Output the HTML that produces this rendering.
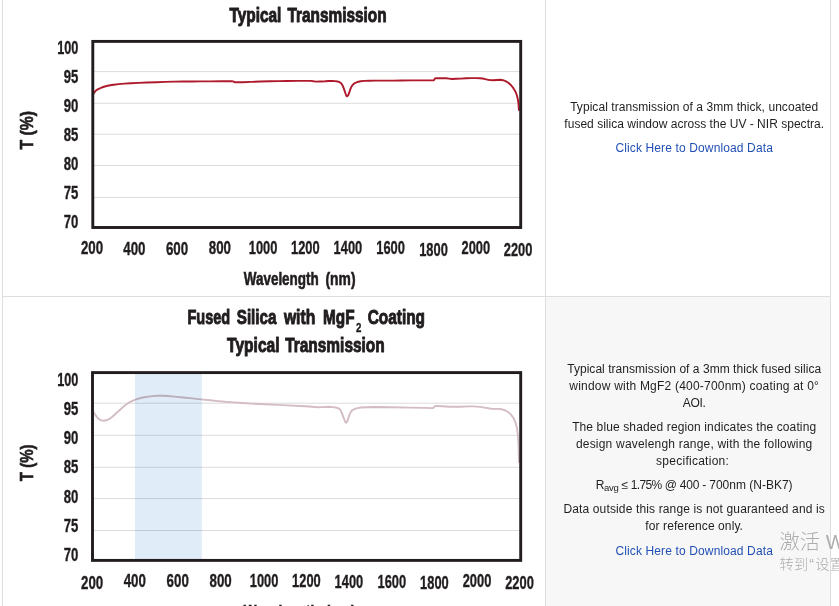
<!DOCTYPE html>
<html lang="en">
<head>
<meta charset="utf-8">
<title>Fused Silica Windows - Typical Transmission</title>
<style>
html,body{margin:0;padding:0;background:#fff;}
body{width:839px;height:606px;overflow:hidden;position:relative;font-family:"Liberation Sans", "DejaVu Sans", sans-serif;}
.tbl{position:absolute;left:2px;top:-40px;width:829px;height:700px;border-left:1px solid #dedede;border-right:1px solid #dedede;box-sizing:border-box;}
.row{position:absolute;left:0;width:827px;box-sizing:border-box;border-bottom:1px solid #dedede;}
.r1{top:0;height:337px;}
.r2{top:337px;height:363px;}
.c1{position:absolute;left:0;top:0;bottom:0;width:542px;border-right:1px solid #dedede;background:#fff;}
.c2{position:absolute;left:543px;top:0;bottom:0;right:0;}
.r2 .c2{background:#f7f7f7;}
svg.chart{position:absolute;left:-3px;display:block;font-family:"Liberation Sans", "DejaVu Sans", sans-serif;font-weight:bold;fill:#211d1f;}
svg.chart text{stroke:#211d1f;stroke-width:0.35px;}
svg.chart text.h{stroke-width:1px;stroke-linejoin:round;}
svg.chart text.m{stroke-width:0.6px;}
.txt{position:absolute;left:0;top:0;width:296.4px;text-align:center;font-size:12px;line-height:17px;color:#1f1f1f;}
.txt p{margin:0;padding:0;position:absolute;left:0;right:0;white-space:nowrap;}
.txt a{color:#2150b4;text-decoration:none;}
.txt sub{font-size:9.5px;line-height:0;vertical-align:-2px;}
.wm{position:absolute;left:779.5px;white-space:nowrap;color:#adadad;font-family:"Liberation Sans","Noto Sans CJK SC",sans-serif;font-weight:300;}
.wm .q{display:inline-block;width:7px;text-align:center;}
</style>
</head>
<body>
<div class="tbl">
  <div class="row r1">
    <div class="c1">
<svg class="chart" width="545" height="296" viewBox="0 0 545 296" style="top:40px">
<rect x="92.8" y="41.4" width="427.9" height="186.1" fill="#fff"/>
<line x1="92.8" x2="520.7" y1="71.6" y2="71.6" stroke="#dcdcdc" stroke-width="1"/>
<line x1="92.8" x2="520.7" y1="103.3" y2="103.3" stroke="#dcdcdc" stroke-width="1"/>
<line x1="92.8" x2="520.7" y1="134.2" y2="134.2" stroke="#dcdcdc" stroke-width="1"/>
<line x1="92.8" x2="520.7" y1="165.5" y2="165.5" stroke="#dcdcdc" stroke-width="1"/>
<line x1="92.8" x2="520.7" y1="197.4" y2="197.4" stroke="#dcdcdc" stroke-width="1"/>
<polyline points="93.0,94.5 94.2,92.6 95.7,90.8 97.3,89.6 99.3,88.6 101.8,87.5 104.7,86.5 108.8,85.5 113.6,84.7 118.6,84.1 124.3,83.6 131,83.2 138.6,82.9 147,82.5 156.5,82.2 165,81.9 174.4,81.6 183,81.5 192.3,81.5 201,81.4 210.2,81.4 221,81.3 231.6,81.3 233.2,81.4 234.6,82.3 238,82.3 242.9,82.2 251,81.9 260.8,81.5 270,81.3 278.6,81.1 287,81.0 296.5,80.9 304,80.9 310.8,80.9 313.5,81.3 316.2,81.6 320,81.5 325.1,81.3 329,81.0 332.3,80.9 335,81.1 337.6,81.5 339.5,82.1 341.2,83.2 342.6,85.4 343.9,88.6 344.8,91.4 345.7,94.0 346.3,95.6 346.9,96.3 347.6,96.0 348.4,94.9 349.3,92.4 350.2,89.5 351.4,86.8 352.8,84.7 354.8,83.1 357.3,82.0 360.5,81.3 364.5,80.9 370,80.7 375,80.6 384,80.6 392.9,80.6 402,80.5 410.8,80.4 422,80.4 433.1,80.4 434.2,80.0 434.8,78.6 435.8,78.2 441,78.2 446.5,78.2 449,78.6 451.9,79.0 456,78.8 460.8,78.6 466,78.3 471.5,78.1 476,78.1 480.5,78.2 484,78.8 487.6,79.7 490.5,80.1 493,80.2 497,80.0 500.2,79.8 503,80.2 505.5,81.1 508.3,82.7 510.9,85.0 513.2,87.9 515.3,91.3 516.6,94.5 517.7,98.4 518.4,103 518.9,110" fill="none" stroke="#ae1a2b" stroke-width="1.9" stroke-linejoin="round" stroke-linecap="round"/>
<rect x="92.8" y="41.4" width="427.9" height="186.1" fill="none" stroke="#211d1f" stroke-width="2.9"/>
<text x="229.5" y="21.7" font-size="21" text-anchor="start" textLength="51.9" lengthAdjust="spacingAndGlyphs" class="h">Typical</text>
<text x="287.4" y="21.7" font-size="21" text-anchor="start" textLength="99.2" lengthAdjust="spacingAndGlyphs" class="h">Transmission</text>
<text x="78.4" y="53.6" font-size="17.5" text-anchor="end" textLength="21.2" lengthAdjust="spacingAndGlyphs">100</text>
<text x="78.4" y="83.3" font-size="17.5" text-anchor="end" textLength="14.6" lengthAdjust="spacingAndGlyphs">95</text>
<text x="78.4" y="111.9" font-size="17.5" text-anchor="end" textLength="14.6" lengthAdjust="spacingAndGlyphs">90</text>
<text x="78.4" y="140.5" font-size="17.5" text-anchor="end" textLength="14.6" lengthAdjust="spacingAndGlyphs">85</text>
<text x="78.4" y="170.3" font-size="17.5" text-anchor="end" textLength="14.6" lengthAdjust="spacingAndGlyphs">80</text>
<text x="78.4" y="198.7" font-size="17.5" text-anchor="end" textLength="14.6" lengthAdjust="spacingAndGlyphs">75</text>
<text x="78.4" y="227.8" font-size="17.5" text-anchor="end" textLength="14.6" lengthAdjust="spacingAndGlyphs">70</text>
<text x="92.0" y="253.5" font-size="17.5" text-anchor="middle" textLength="22.2" lengthAdjust="spacingAndGlyphs">200</text>
<text x="134.4" y="254.8" font-size="17.5" text-anchor="middle" textLength="22.2" lengthAdjust="spacingAndGlyphs">400</text>
<text x="177.0" y="254.8" font-size="17.5" text-anchor="middle" textLength="22.2" lengthAdjust="spacingAndGlyphs">600</text>
<text x="219.9" y="254.3" font-size="17.5" text-anchor="middle" textLength="22.2" lengthAdjust="spacingAndGlyphs">800</text>
<text x="263.1" y="254.0" font-size="17.5" text-anchor="middle" textLength="28.6" lengthAdjust="spacingAndGlyphs">1000</text>
<text x="305.3" y="254.3" font-size="17.5" text-anchor="middle" textLength="28.6" lengthAdjust="spacingAndGlyphs">1200</text>
<text x="347.9" y="254.3" font-size="17.5" text-anchor="middle" textLength="28.6" lengthAdjust="spacingAndGlyphs">1400</text>
<text x="390.6" y="254.3" font-size="17.5" text-anchor="middle" textLength="28.6" lengthAdjust="spacingAndGlyphs">1600</text>
<text x="433.5" y="255.5" font-size="17.5" text-anchor="middle" textLength="28.6" lengthAdjust="spacingAndGlyphs">1800</text>
<text x="475.8" y="254.3" font-size="17.5" text-anchor="middle" textLength="28.6" lengthAdjust="spacingAndGlyphs">2000</text>
<text x="518.1" y="255.5" font-size="17.5" text-anchor="middle" textLength="28.6" lengthAdjust="spacingAndGlyphs">2200</text>
<text x="243.7" y="284.5" font-size="18" text-anchor="start" textLength="75.1" lengthAdjust="spacingAndGlyphs" class="m">Wavelength</text><text x="325.5" y="284.5" font-size="18" text-anchor="start" textLength="30.0" lengthAdjust="spacingAndGlyphs" class="m">(nm)</text>
<text transform="translate(33.2,130.3) rotate(-90)" class="m" font-size="18" text-anchor="middle" textLength="38.5" lengthAdjust="spacingAndGlyphs">T (%)</text>
</svg>
    </div>
    <div class="c2"><div class="txt">
      <p style="top:139px;letter-spacing:0.06px">Typical transmission of a 3mm thick, uncoated</p>
      <p style="top:156px;letter-spacing:0.02px">fused silica window across the UV - NIR spectra.</p>
      <p style="top:180px;letter-spacing:0.13px"><a href="#">Click Here to Download Data</a></p>
    </div></div>
  </div>
  <div class="row r2">
    <div class="c1">
<svg class="chart" width="545" height="309" viewBox="0 297 545 309" style="top:0">
<rect x="92.5" y="372.6" width="428.2" height="187.8" fill="#fff"/>
<line x1="92.5" x2="520.7" y1="403.2" y2="403.2" stroke="#dcdcdc" stroke-width="1"/>
<line x1="92.5" x2="520.7" y1="435.3" y2="435.3" stroke="#dcdcdc" stroke-width="1"/>
<line x1="92.5" x2="520.7" y1="467.3" y2="467.3" stroke="#dcdcdc" stroke-width="1"/>
<line x1="92.5" x2="520.7" y1="498.6" y2="498.6" stroke="#dcdcdc" stroke-width="1"/>
<line x1="92.5" x2="520.7" y1="530.5" y2="530.5" stroke="#dcdcdc" stroke-width="1"/>
<polyline points="92.2,406.5 92.8,409.5 93.6,412.5 95.6,415.1 97.2,417.5 99.2,419.2 101.3,420.4 103.7,420.8 106.3,420.3 109.0,419.2 112.4,416.7 116.2,413.3 120.6,409.2 125.1,405.2 129.6,402.2 134.1,400.2 138.5,398.6 143.0,397.5 148.3,396.6 152.9,396.1 157.4,395.8 161.9,395.7 168,396.0 174.4,396.6 183,397.5 192.3,398.4 201,399.4 210.2,400.3 218,401.1 225,401.8 233.9,402.4 242,403.0 251.8,403.6 265,404.3 278.6,404.9 292,405.6 305.5,406.3 312,406.8 318,407.2 323,407.1 328.7,406.8 333,407.1 336.7,407.7 338.8,408.5 340.3,409.9 341.7,412.6 343,416.1 344.5,420 345.3,422 346.0,422.7 346.8,422 347.6,420.3 348.4,417.9 349.7,414.4 351.0,411.7 352.6,410 354.6,409.0 357.5,408.1 360.9,407.5 367,407.2 375,407.0 390,407.3 410,407.6 425,407.9 432.5,408.1 433.8,407.6 434.6,406.3 436,405.9 442,406.2 450,406.7 460,406.7 468,406.4 473,406.4 480,406.9 486,407.9 491,408.7 497,408.9 502,409.3 505.5,410.5 508.5,412.3 511,414.6 513.5,418 515.5,422.5 517,428 518,436 518.6,447 519,462" fill="none" stroke="#d3bcc2" stroke-width="1.9" stroke-linejoin="round" stroke-linecap="round"/>
<rect x="135.0" y="372.6" width="66.8" height="187.8" fill="#e0ecf7" style="mix-blend-mode:multiply"/>
<rect x="92.5" y="372.6" width="428.2" height="187.8" fill="none" stroke="#211d1f" stroke-width="2.9"/>
<text x="187.5" y="323.5" font-size="21" text-anchor="start" textLength="42.7" lengthAdjust="spacingAndGlyphs" class="h">Fused</text>
<text x="236.8" y="323.5" font-size="21" text-anchor="start" textLength="39.6" lengthAdjust="spacingAndGlyphs" class="h">Silica</text>
<text x="283.9" y="323.5" font-size="21" text-anchor="start" textLength="31.4" lengthAdjust="spacingAndGlyphs" class="h">with</text>
<text x="323.0" y="323.5" font-size="21" text-anchor="start" textLength="31.5" lengthAdjust="spacingAndGlyphs" class="h">MgF</text>
<text x="356.0" y="332.3" font-size="12" text-anchor="start" textLength="5.4" lengthAdjust="spacingAndGlyphs">2</text>
<text x="367.7" y="323.5" font-size="21" text-anchor="start" textLength="57.3" lengthAdjust="spacingAndGlyphs" class="h">Coating</text>
<text x="227.1" y="351.7" font-size="21" text-anchor="start" textLength="52.4" lengthAdjust="spacingAndGlyphs" class="h">Typical</text>
<text x="285.2" y="351.7" font-size="21" text-anchor="start" textLength="99.5" lengthAdjust="spacingAndGlyphs" class="h">Transmission</text>
<text x="78.4" y="385.5" font-size="17.5" text-anchor="end" textLength="21.2" lengthAdjust="spacingAndGlyphs">100</text>
<text x="78.4" y="415.3" font-size="17.5" text-anchor="end" textLength="14.6" lengthAdjust="spacingAndGlyphs">95</text>
<text x="78.4" y="443.7" font-size="17.5" text-anchor="end" textLength="14.6" lengthAdjust="spacingAndGlyphs">90</text>
<text x="78.4" y="473.2" font-size="17.5" text-anchor="end" textLength="14.6" lengthAdjust="spacingAndGlyphs">85</text>
<text x="78.4" y="503.1" font-size="17.5" text-anchor="end" textLength="14.6" lengthAdjust="spacingAndGlyphs">80</text>
<text x="78.4" y="531.5" font-size="17.5" text-anchor="end" textLength="14.6" lengthAdjust="spacingAndGlyphs">75</text>
<text x="78.4" y="560.8" font-size="17.5" text-anchor="end" textLength="14.6" lengthAdjust="spacingAndGlyphs">70</text>
<text x="92.1" y="588.9" font-size="17.5" text-anchor="middle" textLength="22.2" lengthAdjust="spacingAndGlyphs">200</text>
<text x="134.8" y="587.4" font-size="17.5" text-anchor="middle" textLength="22.2" lengthAdjust="spacingAndGlyphs">400</text>
<text x="177.7" y="587.4" font-size="17.5" text-anchor="middle" textLength="22.2" lengthAdjust="spacingAndGlyphs">600</text>
<text x="220.6" y="587.4" font-size="17.5" text-anchor="middle" textLength="22.2" lengthAdjust="spacingAndGlyphs">800</text>
<text x="264.1" y="587.4" font-size="17.5" text-anchor="middle" textLength="28.6" lengthAdjust="spacingAndGlyphs">1000</text>
<text x="306.4" y="587.4" font-size="17.5" text-anchor="middle" textLength="28.6" lengthAdjust="spacingAndGlyphs">1200</text>
<text x="348.9" y="588.0" font-size="17.5" text-anchor="middle" textLength="28.6" lengthAdjust="spacingAndGlyphs">1400</text>
<text x="391.8" y="587.6" font-size="17.5" text-anchor="middle" textLength="28.6" lengthAdjust="spacingAndGlyphs">1600</text>
<text x="434.4" y="589.0" font-size="17.5" text-anchor="middle" textLength="28.6" lengthAdjust="spacingAndGlyphs">1800</text>
<text x="477.0" y="587.4" font-size="17.5" text-anchor="middle" textLength="28.6" lengthAdjust="spacingAndGlyphs">2000</text>
<text x="519.5" y="589.0" font-size="17.5" text-anchor="middle" textLength="28.6" lengthAdjust="spacingAndGlyphs">2200</text>
<text x="243.7" y="618.1" font-size="18" text-anchor="start" textLength="75.1" lengthAdjust="spacingAndGlyphs" class="m">Wavelength</text><text x="325.5" y="618.1" font-size="18" text-anchor="start" textLength="30.0" lengthAdjust="spacingAndGlyphs" class="m">(nm)</text>
<text transform="translate(33.2,462.8) rotate(-90)" class="m" font-size="18" text-anchor="middle" textLength="36.8" lengthAdjust="spacingAndGlyphs">T (%)</text>
</svg>
    </div>
    <div class="c2"><div class="txt">
      <p style="top:64px;letter-spacing:0.04px">Typical transmission of a 3mm thick fused silica</p>
      <p style="top:81px;letter-spacing:0.21px">window with MgF2 (400-700nm) coating at 0°</p>
      <p style="top:98px;letter-spacing:-0.3px">AOI.</p>
      <p style="top:122px;letter-spacing:0.12px">The blue shaded region indicates the coating</p>
      <p style="top:139px;letter-spacing:0.2px">design wavelengh range, with the following</p>
      <p style="top:156px;letter-spacing:0.26px"><span style="position:relative;left:-1.6px">specification:</span></p>
      <p style="top:180px;letter-spacing:0px"><span style="letter-spacing:-0.34px">R<sub>avg</sub> ≤ </span><span style="letter-spacing:-0.6px">1.75%</span><span style="letter-spacing:-0.22px"> @ 400 - </span>700nm (N-BK7)</p>
      <p style="top:204px;letter-spacing:0.14px">Data outside this range is not guaranteed and is</p>
      <p style="top:221px;letter-spacing:0.1px">for reference only.</p>
      <p style="top:246px;letter-spacing:0.13px"><a href="#">Click Here to Download Data</a></p>
    </div></div>
  </div>
</div>
<div class="wm" style="top:528px;font-size:20.3px;line-height:28px">激活 Windows</div>
<div class="wm" style="top:554px;font-size:14.2px;line-height:20px;letter-spacing:0.2px">转到<span class="q">“</span>设置<span class="q">”</span>以激活 Windows。</div>
</body>
</html>
